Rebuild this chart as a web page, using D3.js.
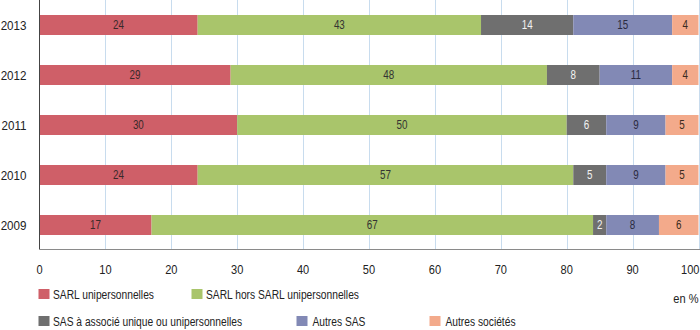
<!DOCTYPE html>
<html lang="fr">

<head>
  <meta charset="utf-8">
  <title>Formes juridiques</title>
  <script src="https://d3js.org/d3.v7.min.js" charset="utf-8"></script>
  <style>
    body { margin: 0; background: #fff; }
    text { font-family: "Liberation Sans", Arial, sans-serif; }
  </style>
</head>

<body>

  <script type="text/javascript">

    // data
    const years = ["2013", "2012", "2011", "2010", "2009"]
    const sarlUni = [24, 29, 30, 24, 17]
    const sarlHors = [43, 48, 50, 57, 67]
    const sasUnique = [14, 8, 6, 5, 2]
    const autresSas = [15, 11, 9, 9, 8]
    const autresSoc = [4, 4, 5, 5, 6]
    const seriesNames = ["SARL unipersonnelles", "SARL hors SARL unipersonnelles",
      "SAS à associé unique ou unipersonnelles", "Autres SAS", "Autres sociétés"]
    const xTicks = [0, 10, 20, 30, 40, 50, 60, 70, 80, 90, 100]

    const colors = ["#cf5f68", "#a9c56b", "#6f6f6f", "#8289b5", "#f3aa8b"]
    const labelColors = ["#3a2a2a", "#333", "#f2f2f2", "#2a2a40", "#3a2a20"]

    // the original uses a condensed face, squeeze Liberation Sans a bit
    const narrow = 0.82
    const place = (px, py) => `translate(${px},${py}) scale(${narrow},1)`

    const keys = ["a", "b", "c", "d", "e"]
    const cols = [sarlUni, sarlHors, sasUnique, autresSas, autresSoc]
    const rows = years.map((y, i) => {
      const r = { year: y }
      keys.forEach((k, j) => r[k] = cols[j][i])
      return r
    })

    const width = 700, height = 330

    const svg = d3.select("body").append("svg")
      .attr("width", width)
      .attr("height", height)

    const x = d3.scaleLinear().domain([0, 100]).range([39.5, 698.5])
    const y = d3.scaleBand().domain(years).range([0, 250])
      .paddingInner(0.6).paddingOuter(0.3)

    // grid
    svg.append("g")
      .selectAll("line")
      .data(xTicks.slice(1))
      .join("line")
      .attr("x1", d => Math.round(x(d)) + 0.5)
      .attr("x2", d => Math.round(x(d)) + 0.5)
      .attr("y1", 0)
      .attr("y2", 249)
      .attr("stroke", "#c8dcee")
      .attr("stroke-width", 1)

    const stack = d3.stack().keys(keys)(rows)

    const layer = svg.append("g")
      .selectAll("g")
      .data(stack)
      .join("g")
      .attr("fill", (d, i) => colors[i])

    layer.selectAll("rect")
      .data(d => d)
      .join("rect")
      .attr("x", d => x(d[0]))
      .attr("width", d => x(d[1]) - x(d[0]))
      .attr("y", d => y(d.data.year))
      .attr("height", y.bandwidth())

    const labels = svg.append("g")
      .attr("text-anchor", "middle")
      .attr("font-size", 12)
      .selectAll("g")
      .data(stack)
      .join("g")
      .attr("fill", (d, i) => labelColors[i])

    labels.selectAll("text")
      .data(d => d)
      .join("text")
      .attr("transform", d => place((x(d[0]) + x(d[1])) / 2, y(d.data.year) + y.bandwidth() / 2))
      .attr("dy", "0.36em")
      .text(d => d[1] - d[0])

    // axes lines
    svg.append("line")
      .attr("x1", 39.5).attr("x2", 39.5)
      .attr("y1", 0).attr("y2", 249.5)
      .attr("stroke", "#444")
    svg.append("line")
      .attr("x1", 39.5).attr("x2", 700)
      .attr("y1", 249.5).attr("y2", 249.5)
      .attr("stroke", "#8a8a8a")

    // year labels
    svg.append("g")
      .attr("text-anchor", "end")
      .attr("font-size", 12.5)
      .attr("fill", "#222")
      .selectAll("text")
      .data(years)
      .join("text")
      .attr("transform", d => `translate(26.5,${y(d) + y.bandwidth() / 2}) scale(0.93,1)`)
      .attr("dy", "0.36em")
      .text(d => d)

    // x tick labels (last one kept inside the frame)
    svg.append("g")
      .attr("font-size", 13.5)
      .attr("fill", "#222")
      .selectAll("text")
      .data(xTicks)
      .join("text")
      .attr("text-anchor", d => d === 100 ? "end" : "middle")
      .attr("transform", d => place(d === 100 ? 699.5 : x(d), 269))
      .attr("dy", "0.36em")
      .text(d => d)

    svg.append("text")
      .attr("transform", place(698.5, 298))
      .attr("dy", "0.36em")
      .attr("text-anchor", "end")
      .attr("font-size", 13.5)
      .attr("fill", "#222")
      .text("en %")

    // legend
    const legendPos = [[38.5, 294], [191.5, 294], [38.5, 321], [296.5, 321], [429.5, 321]]
    const legend = svg.append("g")
      .attr("font-size", 12.5)
      .selectAll("g")
      .data(seriesNames)
      .join("g")
      .attr("transform", (d, i) => `translate(${legendPos[i][0]},${legendPos[i][1]})`)

    legend.append("rect")
      .attr("x", 0).attr("y", -5)
      .attr("width", 11).attr("height", 10)
      .attr("fill", (d, i) => colors[i])

    legend.append("text")
      .attr("transform", (d, i) => place(i >= 3 ? 16 : 14.5, 0))
      .attr("dy", "0.36em")
      .attr("fill", "#222")
      .text(d => d)

  </script>
</body>

</html>
